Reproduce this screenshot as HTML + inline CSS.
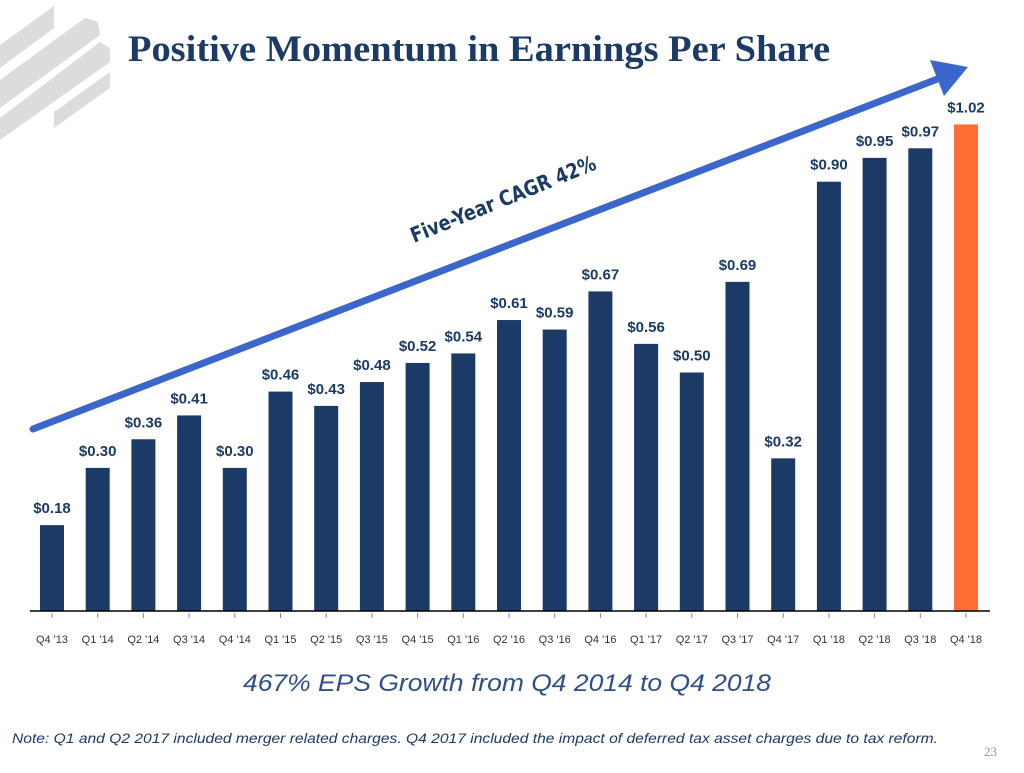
<!DOCTYPE html>
<html><head><meta charset="utf-8"><style>
body{margin:0;background:#fff;width:1024px;height:768px;overflow:hidden;font-family:"Liberation Sans",sans-serif}
</style></head><body>
<svg width="1024" height="768" viewBox="0 0 1024 768">
<g fill="#dcdcdc">
<polygon points="0,45 54,6 54,28 0,68"/>
<polygon points="0,80 85,18 98,22 100,35 0,108"/>
<polygon points="0,118 100,42 110,48 110,62 0,140"/>
<polygon points="54,112 110,72 110,88 54,128"/>
</g>
<text x="128" y="61" font-family="'Liberation Serif',serif" font-size="37" font-weight="bold" fill="#1b3a66" textLength="702" lengthAdjust="spacingAndGlyphs">Positive Momentum in Earnings Per Share</text>
<g id="bars"></g>
<line x1="30" y1="611" x2="990" y2="611" stroke="#000" stroke-width="1.5"/>
<g id="ticks"></g>
<g>
<line x1="33" y1="429" x2="940" y2="78" stroke="#3b67cc" stroke-width="7" stroke-linecap="round"/>
<polygon points="968,67 930,60 944,96" fill="#3b67cc"/>
</g>
<text transform="translate(414,243) rotate(-22)" font-size="21" font-weight="bold" fill="#1b3a66" font-family="'DejaVu Sans Condensed','Liberation Sans',sans-serif" textLength="198" lengthAdjust="spacingAndGlyphs">Five-Year CAGR 42%</text>
<text x="243" y="691" font-size="24" font-style="italic" fill="#2f4f8a" textLength="528" lengthAdjust="spacingAndGlyphs">467% EPS Growth from Q4 2014 to Q4 2018</text>
<text x="12" y="743" font-size="14" font-style="italic" fill="#1b3a66" textLength="926" lengthAdjust="spacingAndGlyphs">Note: Q1 and Q2 2017 included merger related charges. Q4 2017 included the impact of deferred tax asset charges due to tax reform.</text>
<text x="984" y="756" font-size="13" fill="#999" font-family="'Liberation Serif',serif">23</text>
</svg>
<script>
const categories=["Q4 '13","Q1 '14","Q2 '14","Q3 '14","Q4 '14","Q1 '15","Q2 '15","Q3 '15","Q4 '15","Q1 '16","Q2 '16","Q3 '16","Q4 '16","Q1 '17","Q2 '17","Q3 '17","Q4 '17","Q1 '18","Q2 '18","Q3 '18","Q4 '18"];
const eps=[0.18,0.30,0.36,0.41,0.30,0.46,0.43,0.48,0.52,0.54,0.61,0.59,0.67,0.56,0.50,0.69,0.32,0.90,0.95,0.97,1.02];
const valueLabels=["$0.18","$0.30","$0.36","$0.41","$0.30","$0.46","$0.43","$0.48","$0.52","$0.54","$0.61","$0.59","$0.67","$0.56","$0.50","$0.69","$0.32","$0.90","$0.95","$0.97","$1.02"];
const NS="http://www.w3.org/2000/svg";
const x=i=>52+i*45.7;
const y=v=>611-v*477;
const bw=24;
const bars=document.getElementById('bars'),ticks=document.getElementById('ticks');
categories.forEach((c,i)=>{
 const r=document.createElementNS(NS,'rect');
 r.setAttribute('x',x(i)-bw/2);r.setAttribute('y',y(eps[i]));r.setAttribute('width',bw);r.setAttribute('height',611-y(eps[i]));
 r.setAttribute('fill',i===categories.length-1?'#ff6e33':'#1b3a66');
 
 
 bars.appendChild(r);
 const t=document.createElementNS(NS,'text');
 t.setAttribute('x',x(i));t.setAttribute('y',y(eps[i])-12);t.setAttribute('text-anchor','middle');
 t.setAttribute('font-size','15');t.setAttribute('font-weight','bold');t.setAttribute('fill','#1b3a66');
 t.textContent=valueLabels[i];
 
 
 bars.appendChild(t);
 const tk=document.createElementNS(NS,'line');
 tk.setAttribute('x1',x(i));tk.setAttribute('x2',x(i));tk.setAttribute('y1',613);tk.setAttribute('y2',618);tk.setAttribute('stroke','#888');
 
 
 ticks.appendChild(tk);
 const l=document.createElementNS(NS,'text');
 l.setAttribute('x',x(i));l.setAttribute('y',643);l.setAttribute('text-anchor','middle');
 l.setAttribute('font-size','11');l.setAttribute('fill','#333');
 l.textContent=c;
 
 
 ticks.appendChild(l);
});
</script>
</body></html>
